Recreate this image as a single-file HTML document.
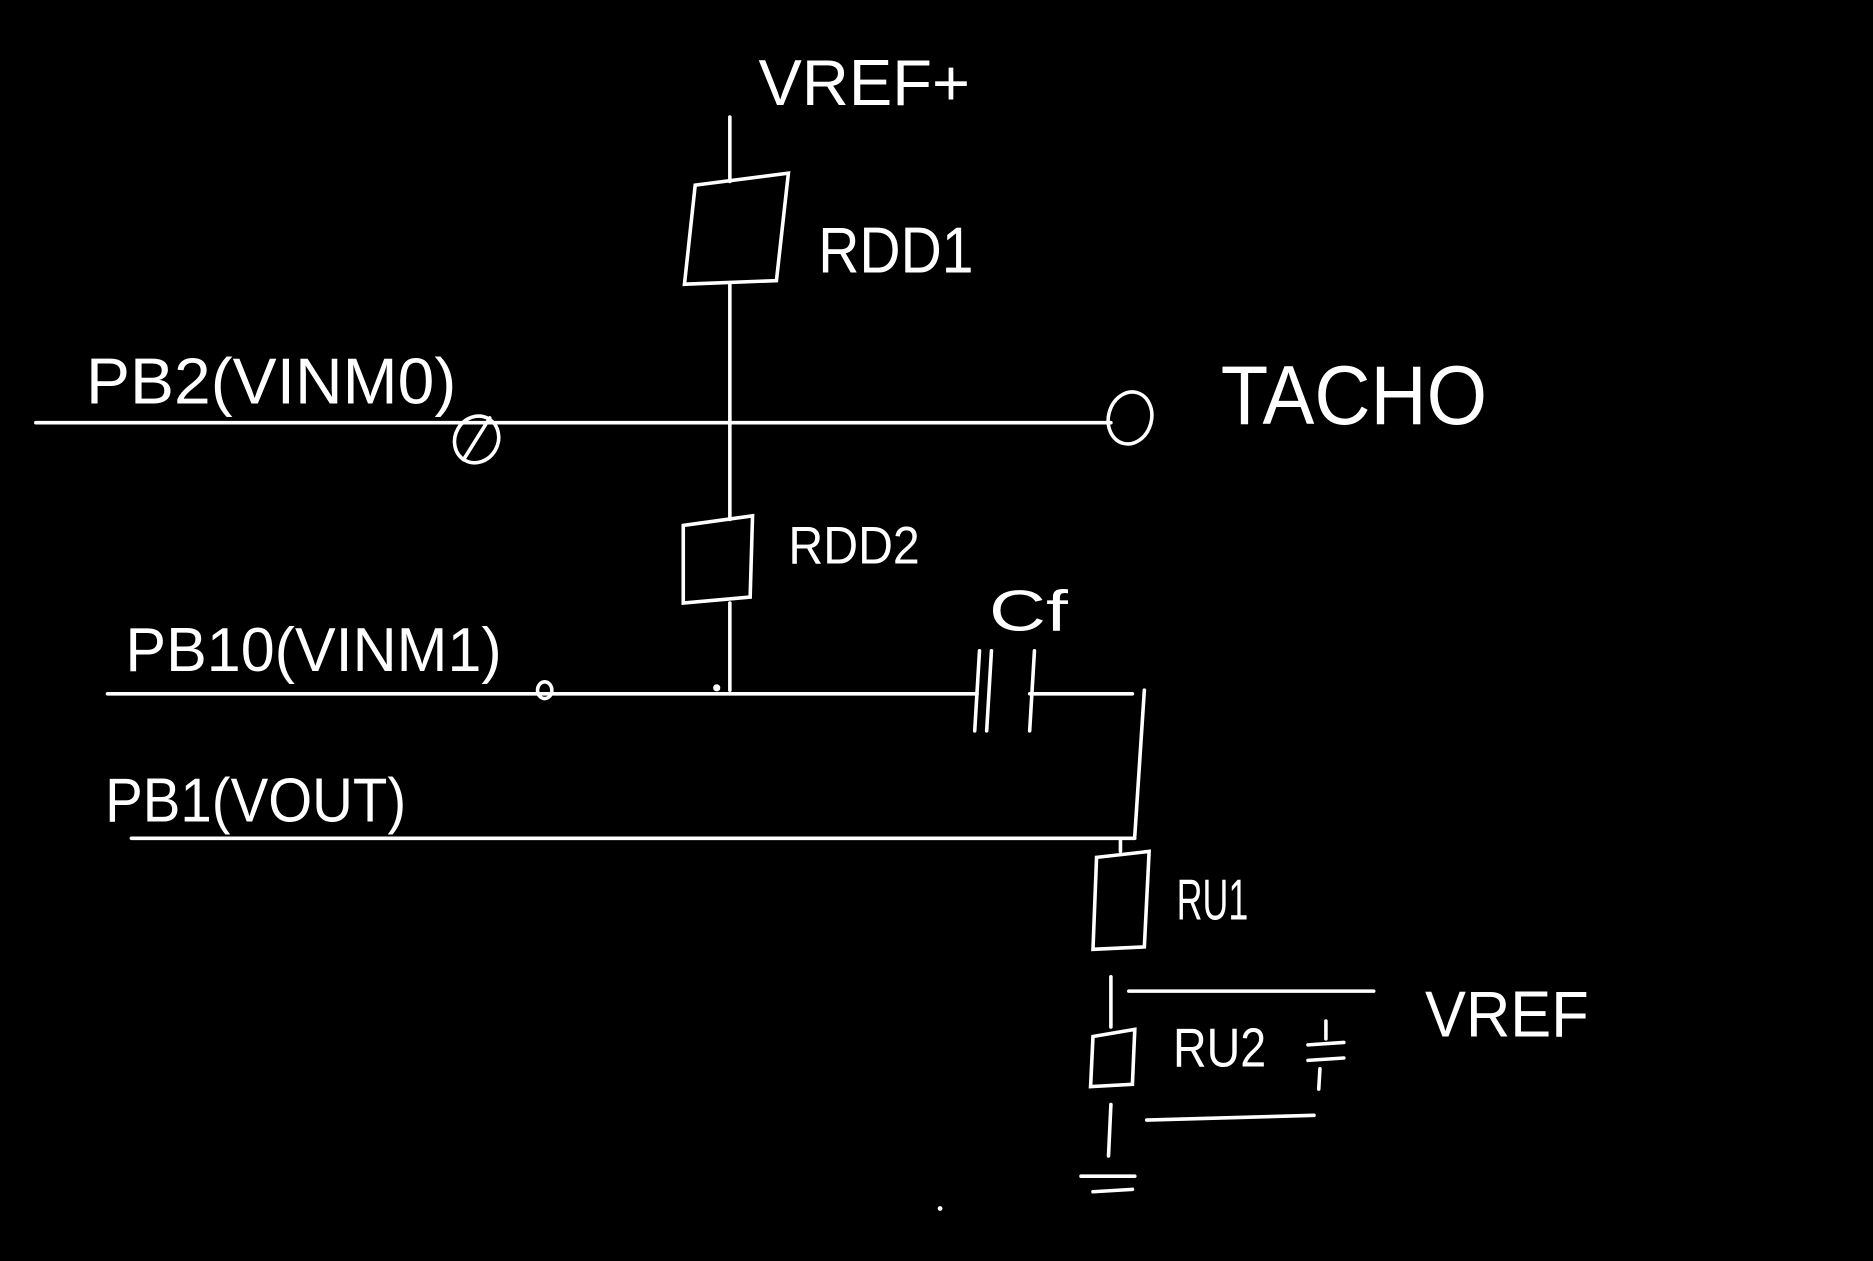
<!DOCTYPE html>
<html><head><meta charset="utf-8"><style>
html,body{margin:0;padding:0;background:#000;}
svg{display:block;}
text{font-family:"Liberation Sans",sans-serif;fill:#fff;font-weight:normal;}
</style></head><body>
<svg width="1873" height="1261" viewBox="0 0 1568 1056" preserveAspectRatio="none" xmlns="http://www.w3.org/2000/svg">
<rect width="1568" height="1056" fill="#000"/>
<g stroke="#fff" stroke-width="3" fill="none" stroke-linecap="round">
<line x1="611" y1="98" x2="611" y2="152"/>
<path d="M582 155 L660 145 L650 235 L573 238 Z"/>
<line x1="611" y1="238" x2="611" y2="435"/>
<path d="M572 440 L630 432 L628 500 L572 505 Z"/>
<line x1="611" y1="505" x2="611" y2="578"/>
<line x1="30" y1="354" x2="930" y2="354"/>
<ellipse cx="399" cy="368" rx="18" ry="20" transform="rotate(30 399 368)"/>
<line x1="388" y1="385" x2="410" y2="350"/>
<ellipse cx="946" cy="350" rx="18" ry="22" transform="rotate(15 946 350)"/>
<line x1="90" y1="581" x2="818" y2="581"/>
<line x1="862" y1="581" x2="948" y2="581"/>
<ellipse cx="456" cy="578" rx="6" ry="7"/>
<line x1="820" y1="545" x2="816" y2="612"/>
<line x1="830" y1="545" x2="826" y2="612"/>
<line x1="866" y1="545" x2="862" y2="612"/>
<line x1="958" y1="578" x2="950" y2="700"/>
<line x1="110" y1="702" x2="950" y2="702"/>
<line x1="938" y1="702" x2="938" y2="713"/>
<path d="M918 718 L962 713 L958 793 L915 795 Z"/>
<line x1="930" y1="818" x2="930" y2="860"/>
<line x1="945" y1="830" x2="1150" y2="830"/>
<path d="M915 868 L950 862 L948 908 L913 910 Z"/>
<line x1="930" y1="925" x2="928" y2="968"/>
<line x1="905" y1="985" x2="950" y2="985"/>
<line x1="915" y1="998" x2="948" y2="996"/>
<line x1="1095" y1="875" x2="1125" y2="873"/>
<line x1="1095" y1="888" x2="1125" y2="886"/>
<line x1="1110" y1="855" x2="1110" y2="870"/>
<line x1="1105" y1="895" x2="1104" y2="912"/>
<line x1="960" y1="938" x2="1100" y2="934"/>
</g>
<circle cx="600" cy="576" r="3" fill="#fff"/>
<circle cx="787" cy="1012" r="2" fill="#fff"/>
<text x="635" y="88" font-size="54" textLength="177" lengthAdjust="spacingAndGlyphs">VREF+</text>
<text x="685" y="228" font-size="54" textLength="130" lengthAdjust="spacingAndGlyphs">RDD1</text>
<text x="72" y="338" font-size="54" textLength="310" lengthAdjust="spacingAndGlyphs">PB2(VINM0)</text>
<text x="1022" y="355" font-size="70" textLength="223" lengthAdjust="spacingAndGlyphs">TACHO</text>
<text x="660" y="472" font-size="44" textLength="110" lengthAdjust="spacingAndGlyphs">RDD2</text>
<text x="828" y="528" font-size="48" textLength="66" lengthAdjust="spacingAndGlyphs">Cf</text>
<text x="105" y="562" font-size="52" textLength="315" lengthAdjust="spacingAndGlyphs">PB10(VINM1)</text>
<text x="88" y="688" font-size="52" textLength="252" lengthAdjust="spacingAndGlyphs">PB1(VOUT)</text>
<text x="985" y="770" font-size="48" textLength="60" lengthAdjust="spacingAndGlyphs">RU1</text>
<text x="1193" y="868" font-size="54" textLength="137" lengthAdjust="spacingAndGlyphs">VREF</text>
<text x="982" y="893" font-size="46" textLength="78" lengthAdjust="spacingAndGlyphs">RU2</text>
</svg>
</body></html>
